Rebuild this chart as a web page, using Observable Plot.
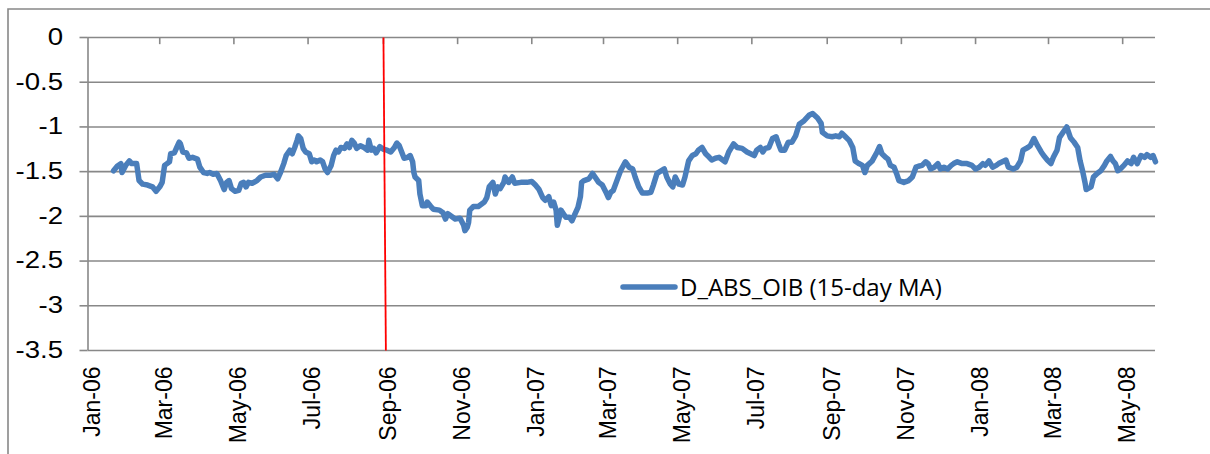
<!DOCTYPE html>
<html>
<head>
<meta charset="utf-8">
<script src="https://cdn.jsdelivr.net/npm/d3@7"></script>
<script src="https://cdn.jsdelivr.net/npm/@observablehq/plot@0.6"></script>
<style>
  html, body { margin: 0; padding: 0; background: #fff; }
  #chart { position: relative; width: 1210px; height: 454px; overflow: hidden; }
</style>
</head>
<body>
<div id="chart"></div>
<script>
const seriesName = "D_ABS_OIB (15-day MA)";
const eventDate = ["2006-09-01", "2006-09-03"];
const xTickDates = ["2006-01-01","2006-03-01","2006-05-01","2006-07-01","2006-09-01","2006-11-01",
  "2007-01-01","2007-03-01","2007-05-01","2007-07-01","2007-09-01","2007-11-01",
  "2008-01-01","2008-03-01","2008-05-01"];
const yTicks = [0, -0.5, -1, -1.5, -2, -2.5, -3, -3.5];
const xDomain = ["2006-01-01", "2008-05-28"];

const dates = [
"2006-01-22","2006-01-25","2006-01-28","2006-01-29","2006-02-01","2006-02-04","2006-02-06","2006-02-10","2006-02-12","2006-02-15",
"2006-02-19","2006-02-23","2006-02-26","2006-03-01","2006-03-03","2006-03-05","2006-03-07","2006-03-09","2006-03-10","2006-03-13",
"2006-03-15","2006-03-17","2006-03-18","2006-03-20","2006-03-23","2006-03-25","2006-03-28","2006-04-01","2006-04-03","2006-04-06",
"2006-04-09","2006-04-11","2006-04-14","2006-04-17","2006-04-20","2006-04-23","2006-04-25","2006-04-27","2006-04-29","2006-05-02",
"2006-05-05","2006-05-07","2006-05-09","2006-05-11","2006-05-13","2006-05-16","2006-05-20","2006-05-23","2006-05-27","2006-05-31",
"2006-06-03","2006-06-06","2006-06-08","2006-06-11","2006-06-13","2006-06-16","2006-06-18","2006-06-20","2006-06-22","2006-06-23",
"2006-06-25","2006-06-27","2006-06-29","2006-07-02","2006-07-04","2006-07-06","2006-07-08","2006-07-11","2006-07-13","2006-07-15",
"2006-07-17","2006-07-20","2006-07-22","2006-07-24","2006-07-26","2006-07-28","2006-07-31","2006-08-02","2006-08-04","2006-08-06",
"2006-08-08","2006-08-10","2006-08-13","2006-08-16","2006-08-19","2006-08-20","2006-08-22","2006-08-24","2006-08-26","2006-08-29",
"2006-09-01","2006-09-04","2006-09-07","2006-09-10","2006-09-12","2006-09-14","2006-09-16","2006-09-18","2006-09-21","2006-09-23",
"2006-09-25","2006-09-26","2006-09-27","2006-09-30","2006-10-01","2006-10-03","2006-10-06","2006-10-07","2006-10-10","2006-10-12",
"2006-10-17","2006-10-20","2006-10-22","2006-10-24","2006-10-28","2006-10-30","2006-11-03","2006-11-06","2006-11-07","2006-11-09",
"2006-11-10","2006-11-11","2006-11-14","2006-11-18","2006-11-23","2006-11-25","2006-11-27","2006-11-30","2006-12-02","2006-12-04",
"2006-12-06","2006-12-09","2006-12-10","2006-12-13","2006-12-16","2006-12-18","2006-12-23","2006-12-28","2007-01-01","2007-01-04",
"2007-01-07","2007-01-10","2007-01-12","2007-01-15","2007-01-17","2007-01-19","2007-01-21","2007-01-22","2007-01-23","2007-01-25",
"2007-01-27","2007-01-29","2007-02-01","2007-02-03","2007-02-05","2007-02-08","2007-02-10","2007-02-11","2007-02-13","2007-02-17",
"2007-02-20","2007-02-22","2007-02-25","2007-02-28","2007-03-03","2007-03-05","2007-03-07","2007-03-09","2007-03-12","2007-03-15",
"2007-03-19","2007-03-22","2007-03-25","2007-03-27","2007-03-30","2007-04-02","2007-04-06","2007-04-09","2007-04-11","2007-04-14",
"2007-04-20","2007-04-22","2007-04-25","2007-04-27","2007-04-29","2007-05-02","2007-05-05","2007-05-07","2007-05-10","2007-05-13",
"2007-05-16","2007-05-18","2007-05-21","2007-05-24","2007-05-27","2007-05-29","2007-06-01","2007-06-04","2007-06-07","2007-06-09",
"2007-06-12","2007-06-16","2007-06-19","2007-06-23","2007-06-27","2007-06-30","2007-07-03","2007-07-05","2007-07-08","2007-07-10",
"2007-07-12","2007-07-15","2007-07-18","2007-07-21","2007-07-23","2007-07-25","2007-07-28","2007-07-31","2007-08-03","2007-08-06",
"2007-08-09","2007-08-13","2007-08-17","2007-08-20","2007-08-24","2007-08-27","2007-08-28","2007-09-01","2007-09-05","2007-09-08",
"2007-09-11","2007-09-13","2007-09-16","2007-09-19","2007-09-22","2007-09-24","2007-09-27","2007-09-30","2007-10-02","2007-10-04",
"2007-10-08","2007-10-12","2007-10-14","2007-10-16","2007-10-19","2007-10-21","2007-10-23","2007-10-26","2007-10-28","2007-10-30",
"2007-11-03","2007-11-07","2007-11-10","2007-11-13","2007-11-15","2007-11-18","2007-11-21","2007-11-23","2007-11-25","2007-11-28",
"2007-12-01","2007-12-03","2007-12-06","2007-12-09","2007-12-12","2007-12-14","2007-12-17","2007-12-21","2007-12-25","2007-12-29",
"2008-01-01","2008-01-04","2008-01-07","2008-01-09","2008-01-12","2008-01-15","2008-01-18","2008-01-20","2008-01-23","2008-01-26",
"2008-01-28","2008-02-01","2008-02-04","2008-02-07","2008-02-09","2008-02-13","2008-02-15","2008-02-18","2008-02-21","2008-02-24",
"2008-02-26","2008-02-29","2008-03-03","2008-03-05","2008-03-08","2008-03-10","2008-03-13","2008-03-16","2008-03-19","2008-03-22",
"2008-03-25","2008-03-27","2008-03-29","2008-03-31","2008-04-01","2008-04-05","2008-04-07","2008-04-10","2008-04-13","2008-04-16",
"2008-04-18","2008-04-21","2008-04-23","2008-04-25","2008-04-27","2008-04-29","2008-05-02","2008-05-05","2008-05-08","2008-05-10",
"2008-05-13","2008-05-16","2008-05-19","2008-05-21","2008-05-24","2008-05-26","2008-05-28"
];
const values = [
-1.49,-1.44,-1.41,-1.51,-1.43,-1.38,-1.41,-1.41,-1.60,-1.64,
-1.65,-1.67,-1.72,-1.67,-1.62,-1.43,-1.41,-1.39,-1.30,-1.29,
-1.23,-1.17,-1.19,-1.28,-1.29,-1.35,-1.34,-1.36,-1.45,-1.51,
-1.52,-1.51,-1.53,-1.52,-1.60,-1.70,-1.62,-1.60,-1.69,-1.72,
-1.71,-1.63,-1.62,-1.67,-1.62,-1.63,-1.60,-1.56,-1.54,-1.54,
-1.53,-1.58,-1.52,-1.41,-1.32,-1.26,-1.30,-1.23,-1.15,-1.10,
-1.13,-1.24,-1.28,-1.30,-1.39,-1.37,-1.39,-1.37,-1.39,-1.47,
-1.51,-1.43,-1.32,-1.26,-1.28,-1.23,-1.24,-1.19,-1.23,-1.15,
-1.18,-1.24,-1.21,-1.23,-1.26,-1.15,-1.26,-1.24,-1.29,-1.22,
-1.25,-1.26,-1.28,-1.23,-1.18,-1.21,-1.28,-1.35,-1.34,-1.32,
-1.39,-1.51,-1.56,-1.60,-1.75,-1.88,-1.88,-1.84,-1.89,-1.92,
-1.93,-1.96,-2.03,-1.97,-2.01,-2.03,-2.02,-2.10,-2.16,-2.12,
-2.07,-1.93,-1.89,-1.89,-1.84,-1.79,-1.67,-1.62,-1.75,-1.67,
-1.69,-1.62,-1.56,-1.62,-1.56,-1.63,-1.62,-1.62,-1.61,-1.65,
-1.70,-1.79,-1.82,-1.78,-1.88,-1.84,-1.93,-2.10,-2.05,-1.93,
-1.97,-2.01,-2.01,-2.05,-1.99,-1.90,-1.78,-1.62,-1.60,-1.58,
-1.52,-1.56,-1.62,-1.65,-1.73,-1.79,-1.73,-1.71,-1.60,-1.49,
-1.39,-1.45,-1.47,-1.56,-1.67,-1.74,-1.74,-1.73,-1.65,-1.52,
-1.47,-1.56,-1.64,-1.67,-1.56,-1.64,-1.65,-1.56,-1.38,-1.32,
-1.30,-1.26,-1.23,-1.30,-1.34,-1.37,-1.35,-1.34,-1.37,-1.39,
-1.28,-1.19,-1.23,-1.24,-1.28,-1.30,-1.32,-1.26,-1.23,-1.28,
-1.24,-1.23,-1.13,-1.11,-1.19,-1.26,-1.26,-1.17,-1.17,-1.10,
-0.97,-0.93,-0.87,-0.85,-0.90,-0.96,-1.06,-1.10,-1.11,-1.10,
-1.11,-1.07,-1.11,-1.15,-1.23,-1.38,-1.41,-1.43,-1.51,-1.43,
-1.38,-1.28,-1.22,-1.30,-1.34,-1.36,-1.43,-1.45,-1.52,-1.60,
-1.62,-1.60,-1.56,-1.45,-1.44,-1.43,-1.39,-1.41,-1.47,-1.45,
-1.41,-1.47,-1.45,-1.47,-1.43,-1.41,-1.39,-1.41,-1.41,-1.43,
-1.47,-1.45,-1.41,-1.43,-1.38,-1.45,-1.43,-1.41,-1.39,-1.37,
-1.45,-1.47,-1.45,-1.38,-1.26,-1.23,-1.21,-1.13,-1.21,-1.28,
-1.32,-1.37,-1.41,-1.34,-1.26,-1.12,-1.06,-1.00,-1.12,-1.17,
-1.23,-1.38,-1.49,-1.62,-1.70,-1.67,-1.56,-1.52,-1.49,-1.43,
-1.38,-1.33,-1.38,-1.41,-1.49,-1.47,-1.43,-1.38,-1.41,-1.34,
-1.41,-1.32,-1.34,-1.31,-1.34,-1.32,-1.39
];

const parse = d3.utcParse("%Y-%m-%d");
const data = dates.map((d, i) => ({date: parse(d), value: values[i]}));
const xTicks = xTickDates.map(parse);
const grey = "#888888";
const axisFont = "Liberation Sans, Arial, sans-serif";

const chart = Plot.plot({
  width: 1210,
  height: 454,
  marginLeft: 87.5,
  marginRight: 55,
  marginTop: 37,
  marginBottom: 104,
  style: {fontFamily: axisFont, fontSize: "23px", background: "white", color: "black"},
  x: {type: "utc", domain: xDomain.map(parse)},
  y: {domain: [-3.5, 0]},
  marks: [
    Plot.gridY(yTicks, {stroke: grey, strokeOpacity: 1, strokeWidth: 1.6}),
    Plot.ruleX([parse(xDomain[0])], {stroke: grey, strokeWidth: 1.6}),
    Plot.ruleX(xTicks.slice(1), {y1: 0, y2: -0.08, stroke: grey, strokeWidth: 1.6}),
    Plot.axisY(yTicks, {anchor: "left", tickSize: 8, tickPadding: 17, stroke: grey, strokeWidth: 1.6,
      tickFormat: d => String(d), label: null}),
    Plot.axisX(xTicks, {anchor: "bottom", tickSize: 0, tickPadding: 16, tickRotate: -90, dx: 5,
      tickFormat: d3.utcFormat("%b-%y"), label: null}),
    Plot.line(data, {x: "date", y: "value", stroke: "#4A7EBB", strokeWidth: 5.5,
      strokeLinejoin: "round", strokeLinecap: "round"}),
    Plot.link([{}], {x1: () => parse(eventDate[0]), y1: () => 0, x2: () => parse(eventDate[1]), y2: () => -3.5,
      stroke: "#FF0000", strokeWidth: 1.8})
  ]
});

const svg = d3.select(chart);
// outer chart-area frame
svg.append("path")
  .attr("d", "M8,455 L8,9 L1215,9")
  .attr("fill", "none").attr("stroke", grey).attr("stroke-width", 1.6);
// legend
const lg = svg.append("g");
lg.append("line").attr("x1", 623).attr("x2", 675).attr("y1", 287).attr("y2", 287)
  .attr("stroke", "#4A7EBB").attr("stroke-width", 5.5).attr("stroke-linecap", "round");
lg.append("text").attr("x", 680).attr("y", 296).attr("text-anchor", "start")
  .attr("font-family", "Open Sans").attr("font-size", 24).attr("fill", "black")
  .text(seriesName);

document.getElementById("chart").appendChild(chart);

// the reference's y labels are horizontally widened: scale their group about its right edge
const yLabel = Array.from(chart.querySelectorAll("text")).find(t => t.textContent === "-0.5");
if (yLabel) {
  const g = yLabel.parentNode;
  const bb = g.getBBox();
  const right = bb.x + bb.width;
  const prev = g.getAttribute("transform") || "";
  g.setAttribute("transform", `${prev} translate(${right},0) scale(1.2,1) translate(${-right},0)`);
}
</script>
</body>
</html>
